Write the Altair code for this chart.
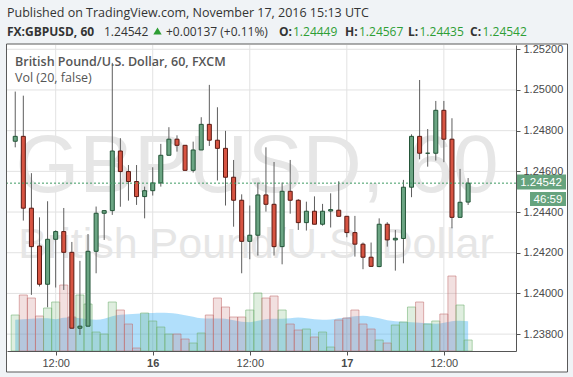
import altair as alt
import pandas as pd

# hourly candles, hours counted from 15 Nov 2016 00:00 UTC (07:00 15 Nov ... 15:00 17 Nov)
hours = list(range(7, 64))
opens = [1.24748, 1.24772, 1.24419, 1.24233, 1.24045, 1.24266, 1.24304, 1.24202, 1.23829, 1.23839,
         1.24207, 1.24394, 1.24407, 1.24700, 1.24599, 1.24550, 1.24476, 1.24505, 1.24543, 1.24679,
         1.24758, 1.24728, 1.24605, 1.24705, 1.24831, 1.24753, 1.24713, 1.24571, 1.24458, 1.24256,
         1.24286, 1.24484, 1.24438, 1.24230, 1.24502, 1.24458, 1.24348, 1.24404, 1.24340, 1.24405,
         1.24409, 1.24379, 1.24299, 1.24242, 1.24178, 1.24132, 1.24340, 1.24263, 1.24270, 1.24522,
         1.24772, 1.24689, 1.24689, 1.24900, 1.24758, 1.24374, 1.24449]
highs = [1.24992, 1.24972, 1.24591, 1.24374, 1.24453, 1.24310, 1.24420, 1.24253, 1.24160, 1.24292,
         1.24427, 1.24407, 1.25133, 1.24763, 1.24631, 1.24631, 1.24525, 1.24620, 1.24735, 1.24817,
         1.24777, 1.24728, 1.24746, 1.24866, 1.25025, 1.24915, 1.24799, 1.24656, 1.24487, 1.24432,
         1.24545, 1.24718, 1.24646, 1.24545, 1.24656, 1.24463, 1.24451, 1.24477, 1.24440, 1.24492,
         1.24551, 1.24379, 1.24381, 1.24250, 1.24250, 1.24369, 1.24350, 1.24312, 1.24558, 1.24782,
         1.25049, 1.24808, 1.24946, 1.24946, 1.24861, 1.24612, 1.24567]
lows = [1.24718, 1.24358, 1.23993, 1.24034, 1.23932, 1.24029, 1.24017, 1.23829, 1.23796, 1.23839,
        1.24099, 1.24263, 1.24386, 1.24426, 1.24456, 1.24435, 1.24369, 1.24481, 1.24525, 1.24679,
        1.24697, 1.24605, 1.24594, 1.24705, 1.24725, 1.24555, 1.24432, 1.24328, 1.24099, 1.24168,
        1.24186, 1.24402, 1.24186, 1.24143, 1.24392, 1.24312, 1.24309, 1.24340, 1.24333, 1.24324,
        1.24379, 1.24276, 1.24181, 1.24119, 1.24133, 1.24129, 1.24230, 1.24112, 1.24148, 1.24473,
        1.24659, 1.24623, 1.24653, 1.24645, 1.24320, 1.24374, 1.24435]
closes = [1.24772, 1.24419, 1.24230, 1.24045, 1.24266, 1.24304, 1.24202, 1.23829, 1.23839, 1.24207,
          1.24394, 1.24407, 1.24700, 1.24599, 1.24550, 1.24476, 1.24505, 1.24543, 1.24679, 1.24758,
          1.24728, 1.24605, 1.24705, 1.24831, 1.24753, 1.24713, 1.24571, 1.24458, 1.24256, 1.24286,
          1.24484, 1.24438, 1.24230, 1.24502, 1.24458, 1.24348, 1.24404, 1.24340, 1.24404, 1.24412,
          1.24379, 1.24299, 1.24242, 1.24178, 1.24133, 1.24340, 1.24263, 1.24271, 1.24522, 1.24772,
          1.24689, 1.24689, 1.24900, 1.24758, 1.24374, 1.24448, 1.24542]
volumes = [3600, 5600, 5300, 3500, 4300, 4900, 6600, 3400, 5600, 4700,
           1900, 1700, 4900, 4100, 2700, 300, 3800, 3000, 2400, 1700,
           1700, 1200, 800, 1800, 3600, 5300, 4400, 3400, 3400, 4100,
           5800, 5300, 5500, 4100, 2700, 2100, 2200, 1400, 1900, 400,
           3100, 3300, 4100, 2700, 2200, 1100, 800, 2600, 2900, 4400,
           4900, 2700, 3000, 3700, 7500, 4600, 1100]
vol_ma = [3130, 3180, 3230, 3280, 3280, 3180, 3330, 3360, 3280, 3180,
          3130, 3230, 3480, 3630, 3680, 3730, 3780, 3800, 3830, 3800,
          3730, 3580, 3430, 3280, 3260, 3260, 3230, 3080, 2930, 2880,
          3030, 3180, 3230, 3230, 3280, 3360, 3280, 3180, 3130, 3160,
          3280, 3360, 3480, 3530, 3430, 3280, 3080, 2980, 2930, 2880,
          2830, 2780, 2730, 2830, 2980, 3030, 2980]
price_ticks = [1.238, 1.240, 1.242, 1.244, 1.246, 1.248, 1.250, 1.252]
time_ticks = [12, 24, 36, 48, 60]
time_labels = ["12:00", "16", "12:00", "17", "12:00"]
day_ticks = [24, 48]
last_price = 1.24542

df = pd.DataFrame({"hour": hours, "open": opens, "high": highs, "low": lows,
                   "close": closes, "vol": volumes, "ma": vol_ma})
df["dir"] = ["up" if c >= o else "down" for o, c in zip(opens, closes)]
df["x0"] = df["hour"] - 0.5
df["x1"] = df["hour"] + 0.5
df["zero"] = 0

W, H = 509, 306
xscale = alt.Scale(domain=[6.6, 68.3], nice=False, zero=False)
yscale = alt.Scale(domain=[1.23717, 1.25221], nice=False, zero=False)
vscale = alt.Scale(domain=[0, 30600], nice=False)

label_expr = "'12:00'"
for t, l in zip(time_ticks, time_labels):
    label_expr = f"datum.value == {t} ? '{l}' : (" + label_expr + ")"
bold_test = " || ".join(f"datum.value == {d}" for d in day_ticks)

xaxis = alt.Axis(values=time_ticks, labelExpr=label_expr, grid=False, tickSize=4,
                 tickColor="#555555", domainColor="#555555", labelColor="#4a4a4a",
                 labelFont="Liberation Sans", labelFontSize=11, labelPadding=2, title=None,
                 labelFontWeight={"condition": {"test": bold_test, "value": "bold"}, "value": "normal"},
                 zindex=1)
yaxis = alt.Axis(orient="right", values=price_ticks, format=".5f", grid=False, tickSize=4,
                 tickColor="#555555", domainColor="#555555", labelColor="#4a4a4a",
                 labelFont="Liberation Sans", labelFontSize=11, labelPadding=3, title=None,
                 zindex=1)

one = pd.DataFrame({"k": [0]})

def txt(text, x, y, size=12, color="#333333", weight="normal", font="Open Sans",
        align="left", baseline="middle"):
    return alt.Chart(one).mark_text(text=text, fontSize=size, color=color, fontWeight=weight,
                                    font=font, align=align, baseline=baseline).encode(
        x=alt.value(x), y=alt.value(y))

frame = alt.Chart(one).mark_rect(fill="white", stroke="#5a5a5a", strokeWidth=1).encode(
    x=alt.value(-0.5), x2=alt.value(560.5), y=alt.value(-1), y2=alt.value(327))

hgrid = alt.Chart(pd.DataFrame({"p": price_ticks})).mark_rule(color="#e2e2e2").encode(
    y=alt.Y("p:Q", scale=yscale, axis=None))
vgrid = alt.Chart(pd.DataFrame({"t": time_ticks})).mark_rule(color="#e2e2e2").encode(
    x=alt.X("t:Q", scale=xscale, axis=xaxis))

wm1 = txt("GBPUSD, 60", 250, 147, size=82, color="#e6e6e6", font="Liberation Sans",
          align="center", baseline="alphabetic")
wm2 = txt("British Pound/U.S. Dollar", 249, 213, size=43, color="#e6e6e6", font="Liberation Sans",
          align="center", baseline="alphabetic")

leg1 = txt("British Pound/U.S. Dollar, 60, FXCM", 8, 17, size=12.5, color="#555555", weight=600)
leg2 = txt("Vol (20, false)", 8, 32.5, size=12.5, color="#555555")

up_cond = alt.datum.dir == "up"
area = alt.Chart(df).mark_area(color="#3cb0f5", opacity=0.4, interpolate="monotone").encode(
    x=alt.X("hour:Q", scale=xscale, axis=xaxis),
    y=alt.Y("ma:Q", scale=vscale, axis=None))
bars = alt.Chart(df).mark_rect(strokeWidth=1).encode(
    x=alt.X("x0:Q", scale=xscale, axis=xaxis), x2="x1:Q",
    y=alt.Y("vol:Q", scale=vscale, axis=None), y2="zero:Q",
    fill=alt.condition(up_cond, alt.value("#6fb06f"), alt.value("#c27070")),
    stroke=alt.condition(up_cond, alt.value("#6fb06f"), alt.value("#c27070")),
    fillOpacity=alt.value(0.22), strokeOpacity=alt.value(0.55))

wicks = alt.Chart(df).mark_rule(color="#5e5e5e", strokeWidth=1).encode(
    x=alt.X("hour:Q", scale=xscale, axis=xaxis),
    y=alt.Y("low:Q", scale=yscale, axis=None), y2="high:Q")
bodies = alt.Chart(df).mark_bar(size=4, strokeWidth=1).encode(
    x=alt.X("hour:Q", scale=xscale, axis=xaxis),
    y=alt.Y("open:Q", scale=yscale, axis=yaxis), y2="close:Q",
    fill=alt.condition(up_cond, alt.value("#6ba583"), alt.value("#d75442")),
    stroke=alt.condition(up_cond, alt.value("#225437"), alt.value("#5b1a13")))

lastline = alt.Chart(pd.DataFrame({"p": [last_price]})).mark_rule(
    color="#3e9a62", strokeDash=[2, 2]).encode(y=alt.Y("p:Q", scale=yscale, axis=None))

box1 = alt.Chart(one).mark_rect(fill="#66a37e").encode(
    x=alt.value(509), x2=alt.value(559), y=alt.value(129.5), y2=alt.value(144.5))
box1t = txt(f"{last_price:.5f}", 534, 137.5, size=11.5, color="white", font="Liberation Sans",
            align="center")
box2 = alt.Chart(one).mark_rect(fill="#66a37e").encode(
    x=alt.value(523), x2=alt.value(559), y=alt.value(147), y2=alt.value(161))
box2t = txt("46:59", 541, 154.5, size=11.5, color="white", font="Liberation Sans", align="center")

green = "#2e9e35"
head = [
    txt("Published on TradingView.com, November 17, 2016 15:13 UTC", 0, -32, size=12.5),
    txt("FX:GBPUSD, 60", 0, -13, size=12, weight="bold"),
    txt("1.24542", 97, -13, size=12),
    alt.Chart(one).mark_point(shape="triangle-up", filled=True, color=green, size=70, opacity=1).encode(
        x=alt.value(150.5), y=alt.value(-14)),
    txt("+0.00137 (+0.11%)", 159, -13, size=12),
    txt("O:", 272, -13, size=12, weight="bold"),
    txt("1.24449", 286, -13, size=12, color=green),
    txt("H:", 338, -13, size=12, weight="bold"),
    txt("1.24567", 352, -13, size=12, color=green),
    txt("L:", 401, -13, size=12, weight="bold"),
    txt("1.24435", 412.5, -13, size=12, color=green),
    txt("C:", 463, -13, size=12, weight="bold"),
    txt("1.24542", 475.5, -13, size=12, color=green),
]

chart = alt.layer(
    frame, hgrid, vgrid, wm1, wm2, leg1, leg2, area, bars, wicks, bodies, lastline,
    box1, box1t, box2, box2t, *head
).resolve_scale(y="independent").properties(
    width=W, height=H,
    padding={"left": 7, "top": 45, "right": 57, "bottom": 26},
    autosize=alt.AutoSizeParams(type="none"),
    background="#f0f3f6",
).configure_view(stroke=None)

chart.save("out.html", embed_options={"renderer": "svg", "actions": False})
